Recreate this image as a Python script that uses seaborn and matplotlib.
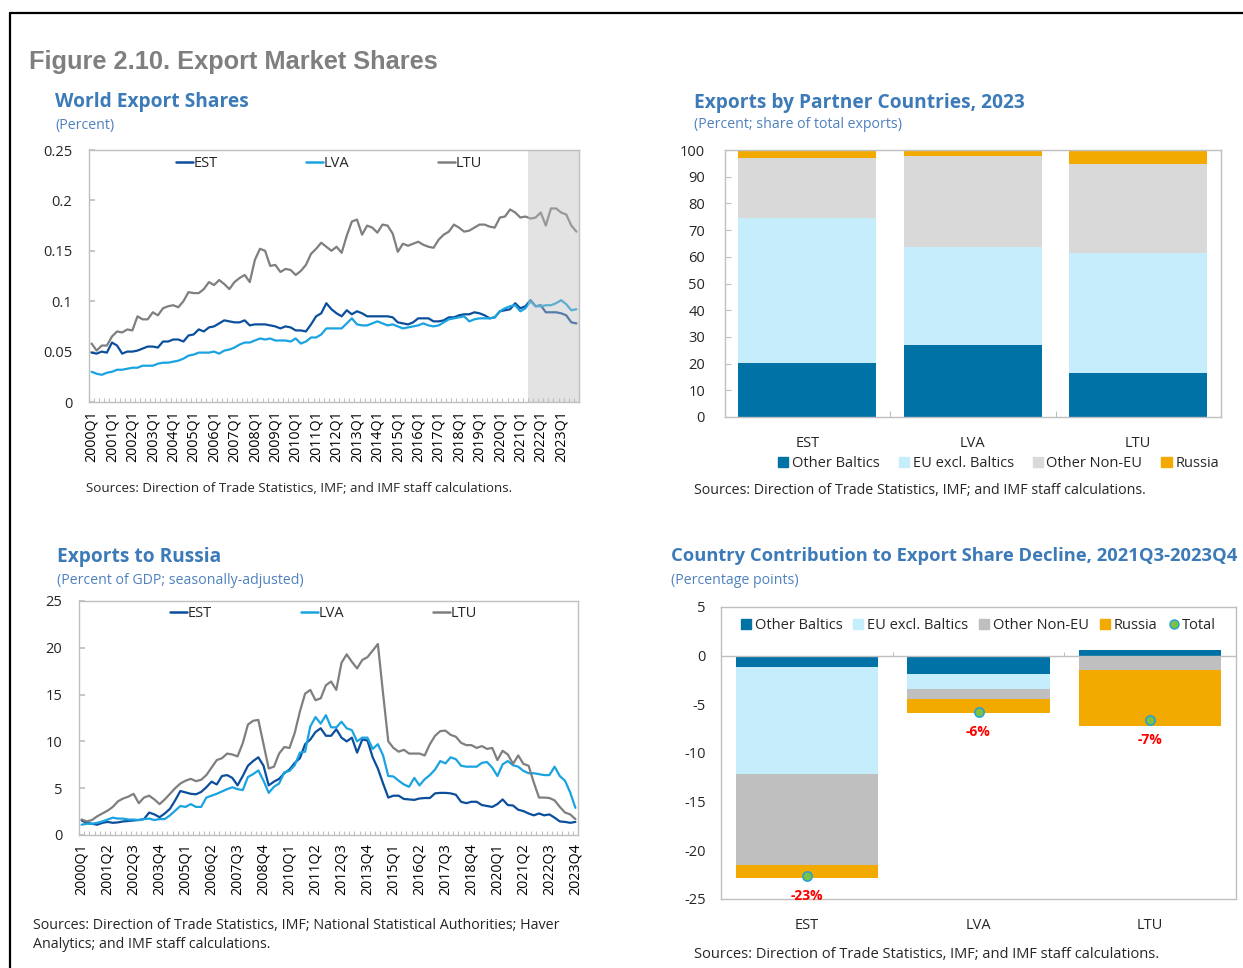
import numpy as np
import pandas as pd
import seaborn as sns
import matplotlib.pyplot as plt
from matplotlib.lines import Line2D
from matplotlib.patches import Patch
from matplotlib.ticker import FuncFormatter, FixedLocator

sns.set_theme(style='white')
plt.rcParams['font.family'] = ['Open Sans', 'DejaVu Sans']
plt.rcParams['axes.unicode_minus'] = False

# ---- data ----
quarters = [f"{y}Q{q}" for y in range(2000, 2024) for q in range(1, 5)]
countries = ['EST', 'LVA', 'LTU']
partners = ['Other Baltics', 'EU excl. Baltics', 'Other Non-EU', 'Russia']

# World export shares (percent), 2000Q1-2023Q4
est_ws = [0.049, 0.048, 0.050, 0.049, 0.059, 0.056, 0.048, 0.050, 0.050, 0.051,
          0.053, 0.055, 0.055, 0.054, 0.060, 0.060, 0.062, 0.062, 0.060, 0.066,
          0.067, 0.072, 0.070, 0.074, 0.075, 0.078, 0.081, 0.080, 0.079, 0.079,
          0.081, 0.076, 0.077, 0.077, 0.077, 0.076, 0.075, 0.073, 0.075, 0.074,
          0.071, 0.071, 0.070, 0.077, 0.085, 0.088, 0.098, 0.092, 0.088, 0.085,
          0.091, 0.087, 0.090, 0.088, 0.085, 0.085, 0.085, 0.085, 0.085, 0.084,
          0.079, 0.078, 0.077, 0.079, 0.083, 0.083, 0.083, 0.080, 0.080, 0.081,
          0.084, 0.084, 0.086, 0.087, 0.087, 0.089, 0.088, 0.086, 0.083, 0.084,
          0.090, 0.091, 0.092, 0.098, 0.093, 0.095, 0.101, 0.095, 0.096, 0.089,
          0.089, 0.089, 0.088, 0.086, 0.079, 0.078]
lva_ws = [0.030, 0.028, 0.027, 0.029, 0.030, 0.032, 0.032, 0.033, 0.034, 0.034,
          0.036, 0.036, 0.036, 0.038, 0.039, 0.039, 0.040, 0.041, 0.043, 0.046,
          0.047, 0.049, 0.049, 0.049, 0.050, 0.048, 0.051, 0.052, 0.054, 0.057,
          0.059, 0.059, 0.061, 0.063, 0.062, 0.063, 0.061, 0.061, 0.061, 0.060,
          0.063, 0.058, 0.060, 0.064, 0.064, 0.067, 0.073, 0.073, 0.073, 0.073,
          0.078, 0.083, 0.077, 0.076, 0.076, 0.078, 0.080, 0.078, 0.076, 0.077,
          0.075, 0.073, 0.074, 0.075, 0.076, 0.078, 0.076, 0.075, 0.076, 0.079,
          0.082, 0.083, 0.084, 0.085, 0.080, 0.082, 0.083, 0.083, 0.083, 0.084,
          0.090, 0.093, 0.095, 0.096, 0.090, 0.093, 0.100, 0.095, 0.095, 0.096,
          0.096, 0.098, 0.101, 0.097, 0.091, 0.092]
ltu_ws = [0.058, 0.051, 0.056, 0.056, 0.065, 0.070, 0.069, 0.072, 0.071, 0.085,
          0.082, 0.082, 0.089, 0.086, 0.093, 0.095, 0.096, 0.094, 0.100, 0.109,
          0.108, 0.108, 0.112, 0.119, 0.116, 0.121, 0.117, 0.112, 0.119, 0.123,
          0.126, 0.119, 0.141, 0.152, 0.150, 0.135, 0.136, 0.129, 0.132, 0.131,
          0.126, 0.130, 0.136, 0.147, 0.152, 0.158, 0.154, 0.150, 0.154, 0.148,
          0.165, 0.179, 0.181, 0.166, 0.175, 0.173, 0.168, 0.176, 0.175, 0.167,
          0.149, 0.157, 0.155, 0.157, 0.159, 0.156, 0.154, 0.153, 0.161, 0.166,
          0.169, 0.176, 0.173, 0.169, 0.170, 0.173, 0.176, 0.176, 0.174, 0.173,
          0.183, 0.184, 0.191, 0.188, 0.183, 0.184, 0.182, 0.183, 0.188, 0.175,
          0.192, 0.192, 0.188, 0.186, 0.175, 0.169]

# Exports to Russia (percent of GDP), 2000Q1-2023Q4
est_ru = [1.55, 1.3, 1.2, 1.1, 1.3, 1.4, 1.3, 1.35, 1.45, 1.5,
          1.55, 1.6, 1.7, 2.4, 2.2, 1.9, 2.3, 2.8, 3.7, 4.7,
          4.55, 4.4, 4.35, 4.6, 5.1, 5.7, 5.4, 6.3, 6.4, 6.1,
          5.3, 6.3, 7.4, 7.9, 8.3, 7.4, 5.3, 5.7, 6.0, 6.6,
          7.0, 7.7, 8.2, 9.7, 10.2, 11.0, 11.4, 10.6, 10.6, 11.3,
          10.4, 10.0, 10.4, 8.8, 10.2, 10.1, 8.3, 7.1, 5.5, 4.0,
          4.2, 4.2, 3.85, 3.8, 3.75, 3.9, 3.95, 3.95, 4.45, 4.5,
          4.5, 4.45, 4.3, 3.55, 3.4, 3.55, 3.55, 3.2, 3.1, 3.0,
          3.3, 3.8, 3.2, 3.15, 2.7, 2.55, 2.3, 2.1, 2.3, 2.1,
          2.2, 1.85, 1.45, 1.4, 1.3, 1.4]
lva_ru = [1.1, 1.2, 1.2, 1.3, 1.45, 1.65, 1.85, 1.75, 1.75, 1.65,
          1.65, 1.6, 1.7, 1.75, 1.6, 1.7, 1.7, 2.1, 2.6, 3.1,
          3.0, 3.3, 3.0, 3.0, 4.0, 4.2, 4.4, 4.65, 4.9, 5.1,
          4.9, 4.8, 6.2, 6.5, 6.9, 5.8, 4.5, 5.15, 5.5, 6.7,
          6.85, 7.45, 8.8, 8.9, 11.6, 12.6, 11.9, 12.8, 11.5, 11.5,
          12.1, 11.4, 11.2, 10.0, 10.4, 10.4, 9.2, 9.7, 8.5, 6.3,
          6.25, 5.8, 5.4, 5.15, 6.1, 5.3, 5.95, 6.4, 7.0, 7.9,
          7.65, 8.3, 8.1, 7.4, 7.3, 7.3, 7.3, 7.7, 7.8, 7.2,
          6.3, 7.55, 7.9, 7.45, 7.3, 6.85, 6.6, 6.6, 6.5, 6.4,
          6.4, 7.3, 6.3, 5.8, 4.55, 2.9]
ltu_ru = [1.66, 1.45, 1.6, 2.0, 2.3, 2.6, 3.0, 3.6, 3.9, 4.1,
          4.4, 3.4, 4.0, 4.2, 3.8, 3.3, 3.8, 4.4, 5.0, 5.5,
          5.8, 6.0, 5.75, 5.9, 6.4, 7.2, 8.0, 8.2, 8.7, 8.6,
          8.4, 9.8, 11.8, 12.2, 12.3, 9.7, 7.1, 7.3, 8.7, 9.4,
          9.3, 10.9, 13.2, 15.1, 15.5, 14.4, 14.6, 16.0, 16.4, 15.5,
          18.4, 19.3, 18.5, 17.8, 18.7, 19.0, 19.7, 20.4, 15.1, 10.0,
          9.3, 8.9, 9.1, 8.7, 8.7, 8.7, 8.5, 9.7, 10.6, 11.1,
          11.15, 10.7, 10.5, 9.85, 9.6, 9.6, 9.3, 9.5, 9.2, 9.3,
          8.0, 9.0, 8.6, 7.6, 8.5, 7.6, 7.4, 5.6, 4.0, 4.0,
          3.95, 3.7, 3.0, 2.4, 2.2, 1.7]

# Exports by partner, 2023 (share of total exports)
other_baltics = [20.3, 26.8, 16.3]
eu_excl_baltics = [54.1, 36.8, 45.0]
other_non_eu = [22.5, 34.2, 33.5]
russia = [3.1, 2.2, 5.2]

# Contribution to export share decline, 2021Q3-2023Q4 (pp)
c_other_baltics = [-1.2, -1.85, 0.6]
c_eu_excl_baltics = [-11.0, -1.55, 0.0]
c_other_non_eu = [-9.3, -1.1, -1.5]
c_russia = [-1.3, -1.4, -5.75]
c_total = [-22.6, -5.8, -6.6]

# ---- style ----
line_colors = {'EST': '#0b4f9c', 'LVA': '#19a3e1', 'LTU': '#7f7f7f'}
bar_colors_top = ['#0072a6', '#c6edfc', '#d9d9d9', '#f2aa00']
bar_colors_bot = ['#0072a6', '#c6edfc', '#bfbfbf', '#f2aa00']
spine_c = '#bfbfbf'
title_c = '#3d7ab8'
W, H = 1243, 968


def fx(x):
    return x / W


def fy(y):
    return 1 - y / H


fig = plt.figure(figsize=(W / 100, H / 100), dpi=100)


def box(ax):
    for s in ax.spines.values():
        s.set_visible(True)
        s.set_color(spine_c)
        s.set_linewidth(1)


def line_panel(ax, series, ymax, ystep, lab_step, shade=False):
    long = pd.DataFrame({c: v for c, v in zip(countries, series)})
    long['q'] = np.arange(len(quarters))
    long = long.melt(id_vars='q', var_name='country', value_name='value')
    sns.lineplot(data=long, x='q', y='value', hue='country', palette=line_colors,
                 linewidth=1.6, legend=False, ax=ax)
    if shade:
        ax.axvspan(85.5, len(quarters) - 0.5, color='#bdbdbd', alpha=0.42, lw=0, zorder=3)
    ax.set_xlim(-0.5, len(quarters) - 0.5)
    ax.set_ylim(0, ymax)
    ax.set_xticks(np.arange(0, len(quarters), lab_step))
    ax.set_xticklabels(quarters[::lab_step], rotation=90)
    ax.xaxis.set_minor_locator(FixedLocator(np.arange(-0.5, len(quarters), 1)))
    ax.tick_params(axis='x', which='major', length=0, pad=6, labelsize=10.3, colors='black')
    ax.tick_params(axis='x', which='minor', bottom=True, direction='in', length=3,
                   color=spine_c, width=0.8)
    ax.set_yticks(np.arange(0, ymax + ystep / 2, ystep))
    ax.yaxis.set_major_formatter(FuncFormatter(lambda v, p: f"{round(v, 3):g}"))
    ax.tick_params(axis='y', left=True, direction='in', length=4, color=spine_c,
                   labelsize=10.5, pad=12)
    ax.set_xlabel('')
    ax.set_ylabel('')
    box(ax)
    handles = [Line2D([0], [0], color=line_colors[c], lw=1.8) for c in countries]
    ax.legend(handles, countries, loc='center', bbox_to_anchor=(0.49, 0.945), ncol=3,
              frameon=False, handlelength=1.15, handletextpad=0.05, columnspacing=6.1,
              fontsize=10.5)


# ---- top-left: world export shares ----
ax1 = fig.add_axes([fx(89), fy(402), fx(579) - fx(89), fy(150) - fy(402)])
line_panel(ax1, [est_ws, lva_ws, ltu_ws], 0.25, 0.05, 4, shade=True)

# ---- bottom-left: exports to Russia ----
ax3 = fig.add_axes([fx(79), fy(835), fx(578) - fx(79), fy(601) - fy(835)])
line_panel(ax3, [est_ru, lva_ru, ltu_ru], 25, 5, 5)

# ---- top-right: partner composition ----
ax2 = fig.add_axes([fx(724.5), fy(417), fx(1221) - fx(724.5), fy(150) - fy(417)])
bottom = np.zeros(3)
for vals, col in zip([other_baltics, eu_excl_baltics, other_non_eu, russia], bar_colors_top):
    sns.barplot(x=countries, y=vals, bottom=bottom, color=col, saturation=1,
                width=0.835, linewidth=0, ax=ax2)
    bottom = bottom + np.array(vals)
ax2.set_ylim(0, 100)
ax2.set_yticks(np.arange(0, 101, 10))
ax2.xaxis.set_minor_locator(FixedLocator([0.5, 1.5]))
ax2.tick_params(axis='x', which='major', length=0, pad=14, labelsize=10.5)
ax2.tick_params(axis='x', which='minor', bottom=True, direction='in', length=4,
                color=spine_c, width=0.8)
ax2.tick_params(axis='y', left=True, direction='in', length=4, color=spine_c,
                width=0.8, labelsize=10.5, pad=14)
box(ax2)
h2 = [Patch(color=c) for c in bar_colors_top]
ax2.legend(h2, partners, loc='center', bbox_to_anchor=(0.552, -0.176), ncol=4,
           frameon=False, handlelength=0.7, handleheight=0.7, handletextpad=0.25,
           columnspacing=1.3, fontsize=10.5)

# ---- bottom-right: contributions ----
ax4 = fig.add_axes([fx(721), fy(899), fx(1236) - fx(721), fy(607) - fy(899)])
pos = np.zeros(3)
neg = np.zeros(3)
for vals, col in zip([c_other_baltics, c_eu_excl_baltics, c_other_non_eu, c_russia], bar_colors_bot):
    v = np.array(vals)
    base = np.where(v >= 0, pos, neg)
    sns.barplot(x=countries, y=v, bottom=base, color=col, saturation=1,
                width=0.83, linewidth=0, ax=ax4)
    pos = pos + np.clip(v, 0, None)
    neg = neg + np.clip(v, None, 0)
ax4.axhline(0, color=spine_c, lw=1, zorder=1)
ax4.vlines([0.5, 1.5], 0, 0.4, color=spine_c, lw=0.8)
sns.scatterplot(x=countries, y=c_total, s=45, color='#7dc142', edgecolor='#1fa0dc',
                linewidth=1.1, zorder=5, legend=False, ax=ax4)
for i, t in enumerate(c_total):
    ax4.annotate(f"{round(t)}%", (i, t), xytext=(0, -14.5), textcoords='offset points',
                 ha='center', va='center', color='#ff0000', fontweight='bold', fontsize=10)
ax4.set_ylim(-25, 5)
ax4.set_xlim(-0.5, 2.5)
ax4.set_yticks(np.arange(-25, 6, 5))
ax4.tick_params(axis='x', length=0, pad=14, labelsize=10.5)
ax4.tick_params(axis='y', length=0, labelsize=10.5, pad=11)
box(ax4)
h4 = [Patch(color=c) for c in bar_colors_bot] + [
    Line2D([0], [0], marker='o', ls='none', markersize=6.5, markerfacecolor='#7dc142',
           markeredgecolor='#1fa0dc', markeredgewidth=1)]
ax4.legend(h4, partners + ['Total'], loc='center', bbox_to_anchor=(0.5, 0.935), ncol=5,
           frameon=False, handlelength=0.7, handleheight=0.7, handletextpad=0.25,
           columnspacing=0.75, fontsize=10.5)

# ---- texts ----
fig.text(fx(29), fy(62), 'Figure 2.10. Export Market Shares', color='#7f7f7f',
         fontsize=18.3, fontweight='bold', family=['Liberation Sans'], va='center')
heads = [(55, 102, 'World Export Shares', 125, '(Percent)', 13.8),
         (694, 103, 'Exports by Partner Countries, 2023', 125, '(Percent; share of total exports)', 13.8),
         (57, 557, 'Exports to Russia', 580, '(Percent of GDP; seasonally-adjusted)', 13.8),
         (671, 556, 'Country Contribution to Export Share Decline, 2021Q3-2023Q4', 580,
          '(Percentage points)', 13.2)]
for x, y, t, y2, s, fs in heads:
    fig.text(fx(x), fy(y), t, color=title_c, fontsize=fs, fontweight='bold', va='center')
    fig.text(fx(x), fy(y2), s, color='#4f81bd', fontsize=10.2, va='center')

src = 'Sources: Direction of Trade Statistics, IMF; and IMF staff calculations.'
fig.text(fx(86), fy(489), src, fontsize=9.6, va='center')
fig.text(fx(694), fy(491), src, fontsize=10.25, va='center')
fig.text(fx(694), fy(955), src, fontsize=10.55, va='center')
fig.text(fx(33), fy(935), 'Sources: Direction of Trade Statistics, IMF; National Statistical '
         'Authorities; Haver\nAnalytics; and IMF staff calculations.', fontsize=10.25,
         va='center', linespacing=1.4)

# frame
fig.add_artist(Line2D([fx(10), 1], [fy(13), fy(13)], color='black', lw=1.6,
                      transform=fig.transFigure))
fig.add_artist(Line2D([fx(10), fx(10)], [0, fy(13)], color='black', lw=1.6,
                      transform=fig.transFigure))

fig.savefig('out.png', dpi=100)
